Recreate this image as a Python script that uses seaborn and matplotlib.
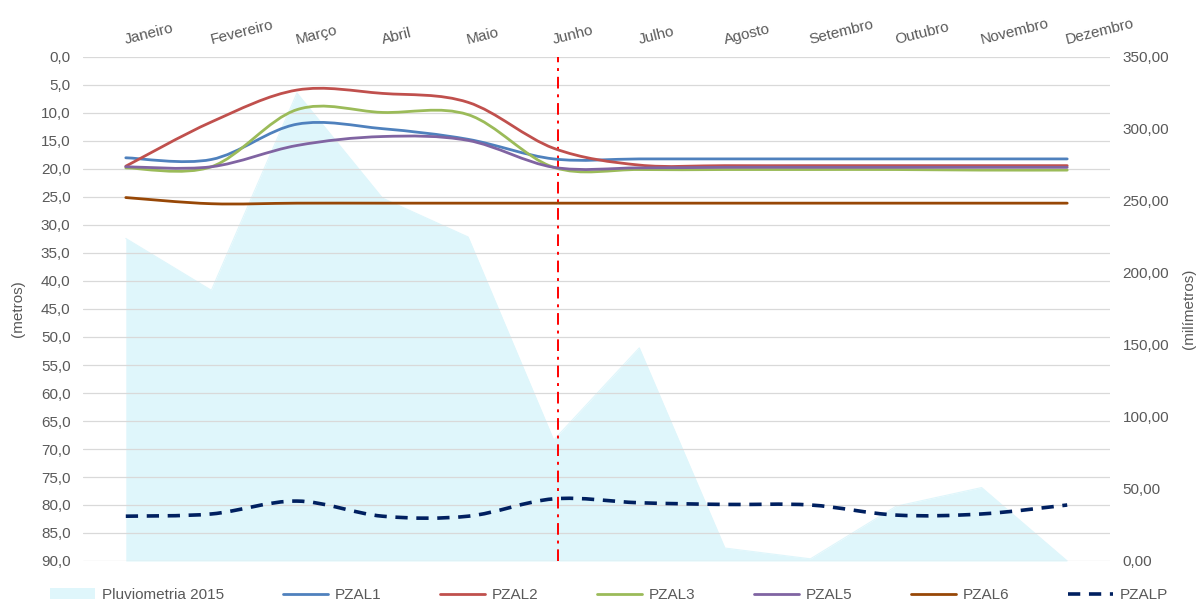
import numpy as np
import matplotlib
matplotlib.use("Agg")
import matplotlib.pyplot as plt
import seaborn as sns
from matplotlib.path import Path
from matplotlib.patches import PathPatch, Patch
from matplotlib.lines import Line2D
from matplotlib.ticker import FuncFormatter, MultipleLocator
import matplotlib.transforms as mtransforms

# ---- data -------------------------------------------------------------
meses = ["Janeiro", "Fevereiro", "Março", "Abril", "Maio", "Junho",
         "Julho", "Agosto", "Setembro", "Outubro", "Novembro", "Dezembro"]

# monthly rainfall (mm, right axis)
pluviometria_2015 = [224, 188, 325, 252, 225, 84, 148, 9, 1.5, 38, 51, 0]

# water level depth of each piezometer (m, left axis)
pzal1 = [18.0, 18.3, 12.0, 12.8, 14.7, 18.2, 18.2, 18.2, 18.2, 18.2, 18.2, 18.2]
pzal2 = [19.5, 11.6, 5.9, 6.5, 8.1, 16.3, 19.3, 19.4, 19.4, 19.4, 19.4, 19.4]
pzal3 = [19.8, 19.6, 9.4, 9.9, 10.3, 19.7, 20.1, 20.1, 20.1, 20.1, 20.2, 20.2]
pzal5 = [19.6, 19.6, 15.8, 14.2, 14.9, 19.7, 19.8, 19.7, 19.7, 19.7, 19.7, 19.7]
pzal6 = [25.1, 26.2, 26.1, 26.1, 26.1, 26.1, 26.1, 26.1, 26.1, 26.1, 26.1, 26.1]
pzalp = [82.0, 81.6, 79.3, 82.0, 82.0, 78.9, 79.6, 79.9, 80.0, 81.8, 81.6, 80.0]

# position of the reference line on the month axis
linha_referencia = 5.05

# ---- style ------------------------------------------------------------
sns.set_theme(style="white")
plt.rcParams["font.family"] = ["Liberation Sans", "DejaVu Sans"]
texto = "#595959"
grade = "#D9D9D9"
cor_area = "#DFF6FB"

series = [
    ("PZAL1", pzal1, "#4F81BD", "-"),
    ("PZAL2", pzal2, "#C0504D", "-"),
    ("PZAL3", pzal3, "#9BBB59", "-"),
    ("PZAL5", pzal5, "#8064A2", "-"),
    ("PZAL6", pzal6, "#974706", "-"),
]


def curva_suave(xs, ys):
    """Smoothed Bezier path through the given points (Catmull-Rom style)."""
    pts = np.column_stack([xs, ys]).astype(float)
    n = len(pts)
    verts = [pts[0]]
    codes = [Path.MOVETO]
    for i in range(n - 1):
        p0 = pts[i - 1] if i > 0 else pts[i]
        p1 = pts[i]
        p2 = pts[i + 1]
        p3 = pts[i + 2] if i + 2 < n else pts[i + 1]
        c1 = p1 + (p2 - p0) / 6.0
        c2 = p2 - (p3 - p1) / 6.0
        verts += [c1, c2, p2]
        codes += [Path.CURVE4] * 3
    return Path(verts, codes)


W, H = 1199, 601
fig = plt.figure(figsize=(W / 100, H / 100), dpi=100)
fig.patch.set_facecolor("white")
L, R, T, B = 83, 1110, 57, 561
ax = fig.add_axes([L / W, 1 - B / H, (R - L) / W, (B - T) / H])
ax2 = ax.twinx()

x = np.arange(len(meses))

# rainfall area on the secondary axis, behind everything
ax2.set_zorder(0)
ax.set_zorder(1)
ax.patch.set_visible(False)
ax2.fill_between(x, pluviometria_2015, 0, color=cor_area, lw=0, zorder=1)
sns.lineplot(x=x, y=pluviometria_2015, ax=ax2, color=cor_area, lw=0.8,
             legend=False, zorder=2)
ax2.set_ylim(0, 350)
ax2.yaxis.set_major_locator(MultipleLocator(50))
ax2.yaxis.set_major_formatter(FuncFormatter(lambda v, p: f"{v:.2f}".replace(".", ",")))
ax2.tick_params(axis="y", length=0, pad=9, labelsize=11, labelcolor=texto)
ax2.set_ylabel("")

# primary axis: depth in metres (inverted)
ax.set_ylim(90, 0)
ax.set_xlim(-0.5, 11.5)
ax2.set_xlim(-0.5, 11.5)
ax.yaxis.set_major_locator(MultipleLocator(5))
ax.yaxis.set_major_formatter(FuncFormatter(lambda v, p: f"{v:.1f}".replace(".", ",")))
ax.tick_params(axis="y", length=0, pad=9, labelsize=11, labelcolor=texto)
ax.set_xticks([])
ax2.set_xticks([])
ax.grid(axis="y", color=grade, lw=0.9)
ax.grid(axis="x", visible=False)
ax.set_axisbelow(True)
for a in (ax, ax2):
    for s in a.spines.values():
        s.set_visible(False)

# reference line
ax.axvline(linha_referencia, color="#FF0000", lw=1.4,
           ls=(0, (6, 3, 1.5, 3)), zorder=2)

# piezometer curves
for nome, vals, cor, ls in series:
    ax.add_patch(PathPatch(curva_suave(x, vals), facecolor="none",
                           edgecolor=cor, lw=2.0, zorder=3,
                           capstyle="round", joinstyle="round"))
ax.add_patch(PathPatch(curva_suave(x, pzalp), facecolor="none",
                       edgecolor="#002060", lw=2.6, ls=(0, (3.4, 2.4)),
                       zorder=4, capstyle="butt"))

# month labels along the top
trans = mtransforms.blended_transform_factory(ax.transData, ax.transAxes)
for i, m in enumerate(meses):
    ax.text(i, 1.026, m, transform=trans, rotation=14, rotation_mode="anchor",
            ha="left", va="baseline", fontsize=11, color=texto)

# axis titles
cy = 1 - ((T + B) / 2) / H
fig.text(18 / W, cy, "(metros)", rotation=90, ha="center", va="center",
         fontsize=11, color=texto)
fig.text(1189 / W, cy, "(milímetros)", rotation=90, ha="center", va="center",
         fontsize=11, color=texto)

# legend
handles = [Patch(facecolor=cor_area, edgecolor="none", label="Pluviometria 2015")]
for nome, vals, cor, ls in series:
    handles.append(Line2D([], [], color=cor, lw=2.0, label=nome))
handles.append(Line2D([], [], color="#002060", lw=2.6, ls=(0, (3.4, 2.4)),
                      label="PZALP"))
lh = 16 / H
fig.legend(handles=handles, loc="center", ncol=7, mode="expand",
           bbox_to_anchor=(50 / W, 1 - 595 / H - lh / 2, (1168 - 50) / W, lh),
           frameon=False, handlelength=2.95, handletextpad=0.45,
           borderaxespad=0, borderpad=0, fontsize=11, labelcolor=texto)

fig.savefig("out.png", dpi=100)
